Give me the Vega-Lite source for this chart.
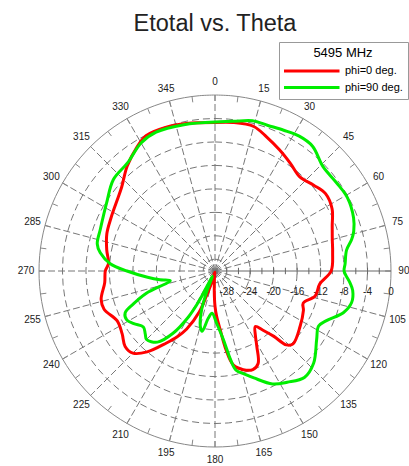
{
  "$schema": "https://vega.github.io/schema/vega-lite/v6.json",
  "autosize": "none",
  "width": 352,
  "height": 352,
  "padding": {"left": 39, "top": 95, "right": 18, "bottom": 19},
  "background": "white",
  "title": {"text": "Etotal vs. Theta", "font": "Liberation Sans", "fontSize": 23.5, "fontWeight": "normal", "color": "#222222", "anchor": "middle", "offset": 6},
  "config": {"view": {"stroke": null}, "font": "Liberation Sans"},
  "datasets": {
    "pattern": [
      {"series": "phi=0 deg.", "theta": 0, "dB": -4.7},
      {"series": "phi=0 deg.", "theta": 7, "dB": -4.5},
      {"series": "phi=0 deg.", "theta": 15, "dB": -4.5},
      {"series": "phi=0 deg.", "theta": 21, "dB": -5.5},
      {"series": "phi=0 deg.", "theta": 28, "dB": -6.6},
      {"series": "phi=0 deg.", "theta": 35, "dB": -7.6},
      {"series": "phi=0 deg.", "theta": 42, "dB": -8.4},
      {"series": "phi=0 deg.", "theta": 49, "dB": -7.7},
      {"series": "phi=0 deg.", "theta": 55, "dB": -7.0},
      {"series": "phi=0 deg.", "theta": 62, "dB": -7.4},
      {"series": "phi=0 deg.", "theta": 69, "dB": -8.6},
      {"series": "phi=0 deg.", "theta": 75, "dB": -9.3},
      {"series": "phi=0 deg.", "theta": 81, "dB": -9.7},
      {"series": "phi=0 deg.", "theta": 90, "dB": -10.2},
      {"series": "phi=0 deg.", "theta": 97, "dB": -12.0},
      {"series": "phi=0 deg.", "theta": 104, "dB": -12.4},
      {"series": "phi=0 deg.", "theta": 110, "dB": -14.0},
      {"series": "phi=0 deg.", "theta": 114, "dB": -13.5},
      {"series": "phi=0 deg.", "theta": 123, "dB": -12.7},
      {"series": "phi=0 deg.", "theta": 133, "dB": -11.8},
      {"series": "phi=0 deg.", "theta": 136, "dB": -12.5},
      {"series": "phi=0 deg.", "theta": 138, "dB": -15.0},
      {"series": "phi=0 deg.", "theta": 141, "dB": -17.0},
      {"series": "phi=0 deg.", "theta": 144, "dB": -18.3},
      {"series": "phi=0 deg.", "theta": 148, "dB": -17.0},
      {"series": "phi=0 deg.", "theta": 151, "dB": -15.3},
      {"series": "phi=0 deg.", "theta": 155, "dB": -12.6},
      {"series": "phi=0 deg.", "theta": 159, "dB": -12.0},
      {"series": "phi=0 deg.", "theta": 164, "dB": -12.5},
      {"series": "phi=0 deg.", "theta": 169, "dB": -13.7},
      {"series": "phi=0 deg.", "theta": 172, "dB": -16.4},
      {"series": "phi=0 deg.", "theta": 175, "dB": -20.0},
      {"series": "phi=0 deg.", "theta": 178, "dB": -22.3},
      {"series": "phi=0 deg.", "theta": 180, "dB": -24.0},
      {"series": "phi=0 deg.", "theta": 182, "dB": -26.5},
      {"series": "phi=0 deg.", "theta": 185, "dB": -29.0},
      {"series": "phi=0 deg.", "theta": 190, "dB": -29.8},
      {"series": "phi=0 deg.", "theta": 196, "dB": -28.0},
      {"series": "phi=0 deg.", "theta": 199, "dB": -25.5},
      {"series": "phi=0 deg.", "theta": 201, "dB": -22.5},
      {"series": "phi=0 deg.", "theta": 206, "dB": -19.0},
      {"series": "phi=0 deg.", "theta": 210, "dB": -17.0},
      {"series": "phi=0 deg.", "theta": 214, "dB": -15.2},
      {"series": "phi=0 deg.", "theta": 220, "dB": -12.0},
      {"series": "phi=0 deg.", "theta": 225, "dB": -10.2},
      {"series": "phi=0 deg.", "theta": 230, "dB": -10.0},
      {"series": "phi=0 deg.", "theta": 236, "dB": -10.9},
      {"series": "phi=0 deg.", "theta": 243, "dB": -11.3},
      {"series": "phi=0 deg.", "theta": 251, "dB": -10.0},
      {"series": "phi=0 deg.", "theta": 256, "dB": -10.0},
      {"series": "phi=0 deg.", "theta": 264, "dB": -11.1},
      {"series": "phi=0 deg.", "theta": 270, "dB": -11.3},
      {"series": "phi=0 deg.", "theta": 274, "dB": -11.8},
      {"series": "phi=0 deg.", "theta": 281, "dB": -11.2},
      {"series": "phi=0 deg.", "theta": 289, "dB": -10.5},
      {"series": "phi=0 deg.", "theta": 297, "dB": -10.1},
      {"series": "phi=0 deg.", "theta": 305, "dB": -9.5},
      {"series": "phi=0 deg.", "theta": 312, "dB": -8.6},
      {"series": "phi=0 deg.", "theta": 320, "dB": -6.7},
      {"series": "phi=0 deg.", "theta": 328, "dB": -5.0},
      {"series": "phi=0 deg.", "theta": 333, "dB": -4.1},
      {"series": "phi=0 deg.", "theta": 341, "dB": -4.1},
      {"series": "phi=0 deg.", "theta": 349, "dB": -4.4},
      {"series": "phi=0 deg.", "theta": 360, "dB": -4.7},
      {"series": "phi=90 deg.", "theta": 0, "dB": -4.6},
      {"series": "phi=90 deg.", "theta": 7, "dB": -4.3},
      {"series": "phi=90 deg.", "theta": 14, "dB": -3.6},
      {"series": "phi=90 deg.", "theta": 20, "dB": -3.6},
      {"series": "phi=90 deg.", "theta": 26, "dB": -3.3},
      {"series": "phi=90 deg.", "theta": 32, "dB": -2.9},
      {"series": "phi=90 deg.", "theta": 38, "dB": -3.0},
      {"series": "phi=90 deg.", "theta": 46, "dB": -4.4},
      {"series": "phi=90 deg.", "theta": 54, "dB": -4.4},
      {"series": "phi=90 deg.", "theta": 61, "dB": -4.2},
      {"series": "phi=90 deg.", "theta": 69, "dB": -4.7},
      {"series": "phi=90 deg.", "theta": 74, "dB": -5.4},
      {"series": "phi=90 deg.", "theta": 77, "dB": -6.1},
      {"series": "phi=90 deg.", "theta": 81, "dB": -7.3},
      {"series": "phi=90 deg.", "theta": 87, "dB": -7.8},
      {"series": "phi=90 deg.", "theta": 90, "dB": -8.0},
      {"series": "phi=90 deg.", "theta": 95, "dB": -6.9},
      {"series": "phi=90 deg.", "theta": 98, "dB": -6.3},
      {"series": "phi=90 deg.", "theta": 103, "dB": -6.1},
      {"series": "phi=90 deg.", "theta": 108, "dB": -7.0},
      {"series": "phi=90 deg.", "theta": 114, "dB": -9.2},
      {"series": "phi=90 deg.", "theta": 118, "dB": -10.0},
      {"series": "phi=90 deg.", "theta": 124, "dB": -9.1},
      {"series": "phi=90 deg.", "theta": 133, "dB": -7.0},
      {"series": "phi=90 deg.", "theta": 140, "dB": -6.3},
      {"series": "phi=90 deg.", "theta": 147, "dB": -7.4},
      {"series": "phi=90 deg.", "theta": 153, "dB": -8.4},
      {"series": "phi=90 deg.", "theta": 160, "dB": -10.6},
      {"series": "phi=90 deg.", "theta": 164, "dB": -11.7},
      {"series": "phi=90 deg.", "theta": 168, "dB": -12.7},
      {"series": "phi=90 deg.", "theta": 170, "dB": -14.6},
      {"series": "phi=90 deg.", "theta": 173, "dB": -18.2},
      {"series": "phi=90 deg.", "theta": 178, "dB": -21.0},
      {"series": "phi=90 deg.", "theta": 184, "dB": -22.8},
      {"series": "phi=90 deg.", "theta": 188, "dB": -21.9},
      {"series": "phi=90 deg.", "theta": 192, "dB": -19.5},
      {"series": "phi=90 deg.", "theta": 195, "dB": -20.3},
      {"series": "phi=90 deg.", "theta": 199, "dB": -23.0},
      {"series": "phi=90 deg.", "theta": 202, "dB": -26.5},
      {"series": "phi=90 deg.", "theta": 205, "dB": -29.0},
      {"series": "phi=90 deg.", "theta": 208, "dB": -24.0},
      {"series": "phi=90 deg.", "theta": 210, "dB": -21.0},
      {"series": "phi=90 deg.", "theta": 214, "dB": -17.2},
      {"series": "phi=90 deg.", "theta": 219, "dB": -14.4},
      {"series": "phi=90 deg.", "theta": 225, "dB": -13.5},
      {"series": "phi=90 deg.", "theta": 228, "dB": -14.0},
      {"series": "phi=90 deg.", "theta": 232, "dB": -14.5},
      {"series": "phi=90 deg.", "theta": 237, "dB": -13.5},
      {"series": "phi=90 deg.", "theta": 241, "dB": -12.8},
      {"series": "phi=90 deg.", "theta": 245, "dB": -13.1},
      {"series": "phi=90 deg.", "theta": 248, "dB": -15.0},
      {"series": "phi=90 deg.", "theta": 252, "dB": -17.7},
      {"series": "phi=90 deg.", "theta": 258, "dB": -22.2},
      {"series": "phi=90 deg.", "theta": 261, "dB": -20.5},
      {"series": "phi=90 deg.", "theta": 265, "dB": -18.3},
      {"series": "phi=90 deg.", "theta": 270, "dB": -15.0},
      {"series": "phi=90 deg.", "theta": 274, "dB": -12.1},
      {"series": "phi=90 deg.", "theta": 279, "dB": -10.2},
      {"series": "phi=90 deg.", "theta": 283, "dB": -9.4},
      {"series": "phi=90 deg.", "theta": 290, "dB": -9.2},
      {"series": "phi=90 deg.", "theta": 302, "dB": -8.2},
      {"series": "phi=90 deg.", "theta": 312, "dB": -6.7},
      {"series": "phi=90 deg.", "theta": 321, "dB": -6.3},
      {"series": "phi=90 deg.", "theta": 330, "dB": -4.8},
      {"series": "phi=90 deg.", "theta": 337, "dB": -4.3},
      {"series": "phi=90 deg.", "theta": 348, "dB": -4.5},
      {"series": "phi=90 deg.", "theta": 360, "dB": -4.6}
    ],
    "circleAngles": [
      {"a": 0}, {"a": 5}, {"a": 10}, {"a": 15}, {"a": 20}, {"a": 25}, {"a": 30}, {"a": 35}, {"a": 40}, {"a": 45},
      {"a": 50}, {"a": 55}, {"a": 60}, {"a": 65}, {"a": 70}, {"a": 75}, {"a": 80}, {"a": 85}, {"a": 90}, {"a": 95},
      {"a": 100}, {"a": 105}, {"a": 110}, {"a": 115}, {"a": 120}, {"a": 125}, {"a": 130}, {"a": 135}, {"a": 140}, {"a": 145},
      {"a": 150}, {"a": 155}, {"a": 160}, {"a": 165}, {"a": 170}, {"a": 175}, {"a": 180}, {"a": 185}, {"a": 190}, {"a": 195},
      {"a": 200}, {"a": 205}, {"a": 210}, {"a": 215}, {"a": 220}, {"a": 225}, {"a": 230}, {"a": 235}, {"a": 240}, {"a": 245},
      {"a": 250}, {"a": 255}, {"a": 260}, {"a": 265}, {"a": 270}, {"a": 275}, {"a": 280}, {"a": 285}, {"a": 290}, {"a": 295},
      {"a": 300}, {"a": 305}, {"a": 310}, {"a": 315}, {"a": 320}, {"a": 325}, {"a": 330}, {"a": 335}, {"a": 340}, {"a": 345},
      {"a": 350}, {"a": 355}, {"a": 360}
    ],
    "spokes": [
      {"a": 0}, {"a": 15}, {"a": 30}, {"a": 45}, {"a": 60}, {"a": 75}, {"a": 105}, {"a": 120},
      {"a": 135}, {"a": 150}, {"a": 165}, {"a": 180}, {"a": 195}, {"a": 210}, {"a": 225}, {"a": 240},
      {"a": 255}, {"a": 270}, {"a": 285}, {"a": 300}, {"a": 315}, {"a": 330}, {"a": 345}
    ],
    "edgeTicks": [
      {"a": 0}, {"a": 7.5}, {"a": 15}, {"a": 22.5}, {"a": 30}, {"a": 37.5}, {"a": 45}, {"a": 52.5},
      {"a": 60}, {"a": 67.5}, {"a": 75}, {"a": 82.5}, {"a": 90}, {"a": 97.5}, {"a": 105}, {"a": 112.5},
      {"a": 120}, {"a": 127.5}, {"a": 135}, {"a": 142.5}, {"a": 150}, {"a": 157.5}, {"a": 165}, {"a": 172.5},
      {"a": 180}, {"a": 187.5}, {"a": 195}, {"a": 202.5}, {"a": 210}, {"a": 217.5}, {"a": 225}, {"a": 232.5},
      {"a": 240}, {"a": 247.5}, {"a": 255}, {"a": 262.5}, {"a": 270}, {"a": 277.5}, {"a": 285}, {"a": 292.5},
      {"a": 300}, {"a": 307.5}, {"a": 315}, {"a": 322.5}, {"a": 330}, {"a": 337.5}, {"a": 345}, {"a": 352.5}
    ],
    "radialTicks": [
      {"r": 2}, {"r": 4}, {"r": 6}, {"r": 8}, {"r": 10}, {"r": 12}, {"r": 14}, {"r": 16},
      {"r": 18}, {"r": 20}, {"r": 22}, {"r": 24}, {"r": 26}, {"r": 28}
    ],
    "radialLabels": [
      {"r": 2, "label": "-28"}, {"r": 6, "label": "-24"}, {"r": 10, "label": "-20"}, {"r": 14, "label": "-16"},
      {"r": 18, "label": "-12"}, {"r": 22, "label": "-8"}, {"r": 26, "label": "-4"}, {"r": 30, "label": "0"}
    ],
    "angleLabels": [
      {"a": 0, "label": "0"}, {"a": 15, "label": "15"}, {"a": 30, "label": "30"}, {"a": 45, "label": "45"},
      {"a": 60, "label": "60"}, {"a": 75, "label": "75"}, {"a": 90, "label": "90"}, {"a": 105, "label": "105"},
      {"a": 120, "label": "120"}, {"a": 135, "label": "135"}, {"a": 150, "label": "150"}, {"a": 165, "label": "165"},
      {"a": 180, "label": "180"}, {"a": 195, "label": "195"}, {"a": 210, "label": "210"}, {"a": 225, "label": "225"},
      {"a": 240, "label": "240"}, {"a": 255, "label": "255"}, {"a": 270, "label": "270"}, {"a": 285, "label": "285"},
      {"a": 300, "label": "300"}, {"a": 315, "label": "315"}, {"a": 330, "label": "330"}, {"a": 345, "label": "345"}
    ]
  },
  "layer": [
    {
      "data": {"name": "circleAngles"},
      "transform": [
        {"calculate": "[2, 6, 10, 14, 18, 22, 26]", "as": "rr"},
        {"flatten": ["rr"]},
        {"calculate": "datum.rr*sin(datum.a*PI/180)", "as": "cx"},
        {"calculate": "datum.rr*cos(datum.a*PI/180)", "as": "cy"}
      ],
      "mark": {"type": "line", "stroke": "#777777", "strokeWidth": 1, "strokeDash": [7, 4]},
      "encoding": {
        "x": {"field": "cx", "type": "quantitative", "scale": {"domain": [-30, 30], "nice": false, "zero": false}, "axis": null},
        "y": {"field": "cy", "type": "quantitative", "scale": {"domain": [-30, 30], "nice": false, "zero": false}, "axis": null},
        "detail": {"field": "rr", "type": "nominal"},
        "order": {"field": "a", "type": "quantitative"}
      }
    },
    {
      "data": {"name": "circleAngles"},
      "transform": [
        {"calculate": "30*sin(datum.a*PI/180)", "as": "cx"},
        {"calculate": "30*cos(datum.a*PI/180)", "as": "cy"}
      ],
      "mark": {"type": "line", "stroke": "#888888", "strokeWidth": 1, "interpolate": "catmull-rom"},
      "encoding": {
        "x": {"field": "cx", "type": "quantitative", "scale": {"domain": [-30, 30], "nice": false, "zero": false}, "axis": null},
        "y": {"field": "cy", "type": "quantitative", "scale": {"domain": [-30, 30], "nice": false, "zero": false}, "axis": null},
        "order": {"field": "a", "type": "quantitative"}
      }
    },
    {
      "data": {"name": "spokes"},
      "transform": [
        {"calculate": "30*sin(datum.a*PI/180)", "as": "xe"},
        {"calculate": "30*cos(datum.a*PI/180)", "as": "ye"},
        {"calculate": "0", "as": "xs"},
        {"calculate": "0", "as": "ys"}
      ],
      "mark": {"type": "rule", "stroke": "#777777", "strokeWidth": 1, "strokeDash": [7, 3]},
      "encoding": {
        "x": {"field": "xs", "type": "quantitative", "scale": {"domain": [-30, 30], "nice": false, "zero": false}, "axis": null},
        "y": {"field": "ys", "type": "quantitative", "scale": {"domain": [-30, 30], "nice": false, "zero": false}, "axis": null},
        "x2": {"field": "xe"},
        "y2": {"field": "ye"}
      }
    },
    {
      "data": {"name": "edgeTicks"},
      "transform": [
        {"calculate": "30*sin(datum.a*PI/180)", "as": "xe"},
        {"calculate": "30*cos(datum.a*PI/180)", "as": "ye"},
        {"calculate": "29*sin(datum.a*PI/180)", "as": "xs"},
        {"calculate": "29*cos(datum.a*PI/180)", "as": "ys"}
      ],
      "mark": {"type": "rule", "stroke": "#888888", "strokeWidth": 1},
      "encoding": {
        "x": {"field": "xs", "type": "quantitative", "scale": {"domain": [-30, 30], "nice": false, "zero": false}, "axis": null},
        "y": {"field": "ys", "type": "quantitative", "scale": {"domain": [-30, 30], "nice": false, "zero": false}, "axis": null},
        "x2": {"field": "xe"},
        "y2": {"field": "ye"}
      }
    },
    {
      "data": {"values": [{"r0": 0, "r1": 30}]},
      "mark": {"type": "rule", "stroke": "#666666", "strokeWidth": 1},
      "encoding": {
        "x": {"field": "r0", "type": "quantitative", "scale": {"domain": [-30, 30], "nice": false, "zero": false}, "axis": null},
        "x2": {"field": "r1"},
        "y": {"datum": 0, "type": "quantitative", "scale": {"domain": [-30, 30], "nice": false, "zero": false}, "axis": null}
      }
    },
    {
      "data": {"name": "radialTicks"},
      "mark": {"type": "rule", "stroke": "#666666", "strokeWidth": 1},
      "encoding": {
        "x": {"field": "r", "type": "quantitative", "scale": {"domain": [-30, 30], "nice": false, "zero": false}, "axis": null},
        "y": {"datum": -0.55, "type": "quantitative", "scale": {"domain": [-30, 30], "nice": false, "zero": false}, "axis": null},
        "y2": {"datum": 0.55}
      }
    },
    {
      "data": {"name": "radialLabels"},
      "mark": {"type": "text", "font": "Liberation Sans", "fontSize": 10, "fill": "#222222", "align": "center", "baseline": "middle", "dy": 21},
      "encoding": {
        "x": {"field": "r", "type": "quantitative", "scale": {"domain": [-30, 30], "nice": false, "zero": false}, "axis": null},
        "y": {"datum": 0, "type": "quantitative", "scale": {"domain": [-30, 30], "nice": false, "zero": false}, "axis": null},
        "text": {"field": "label"}
      }
    },
    {
      "data": {"name": "angleLabels"},
      "transform": [
        {"calculate": "32.2*sin(datum.a*PI/180)", "as": "lx"},
        {"calculate": "32.2*cos(datum.a*PI/180)", "as": "ly"}
      ],
      "mark": {"type": "text", "font": "Liberation Sans", "fontSize": 10, "fill": "#222222", "align": "center", "baseline": "middle"},
      "encoding": {
        "x": {"field": "lx", "type": "quantitative", "scale": {"domain": [-30, 30], "nice": false, "zero": false}, "axis": null},
        "y": {"field": "ly", "type": "quantitative", "scale": {"domain": [-30, 30], "nice": false, "zero": false}, "axis": null},
        "text": {"field": "label"}
      }
    },
    {
      "data": {"name": "pattern"},
      "transform": [
        {"calculate": "(datum.dB + 30)*sin(datum.theta*PI/180)", "as": "px"},
        {"calculate": "(datum.dB + 30)*cos(datum.theta*PI/180)", "as": "py"}
      ],
      "mark": {"type": "line", "strokeWidth": 3, "interpolate": "catmull-rom"},
      "encoding": {
        "x": {"field": "px", "type": "quantitative", "scale": {"domain": [-30, 30], "nice": false, "zero": false}, "axis": null},
        "y": {"field": "py", "type": "quantitative", "scale": {"domain": [-30, 30], "nice": false, "zero": false}, "axis": null},
        "order": {"field": "theta", "type": "quantitative"},
        "color": {
          "field": "series", "type": "nominal",
          "scale": {"domain": ["phi=0 deg.", "phi=90 deg."], "range": ["#ff0000", "#00ee00"]},
          "legend": {
            "title": "5495 MHz", "orient": "none", "legendX": 240, "legendY": -53,
            "strokeColor": "#999999", "padding": 5, "fillColor": "white",
            "titleFont": "Liberation Sans", "titleFontSize": 13, "titleFontWeight": "normal", "titleColor": "#000000", "titleAnchor": "middle", "titlePadding": 5,
            "labelFont": "Liberation Sans", "labelFontSize": 11, "labelColor": "#000000", "labelOffset": 4,
            "symbolType": "stroke", "symbolSize": 3364, "symbolStrokeWidth": 3, "symbolOffset": -4, "clipHeight": 12, "rowPadding": 4.6
          }
        }
      }
    }
  ]
}
